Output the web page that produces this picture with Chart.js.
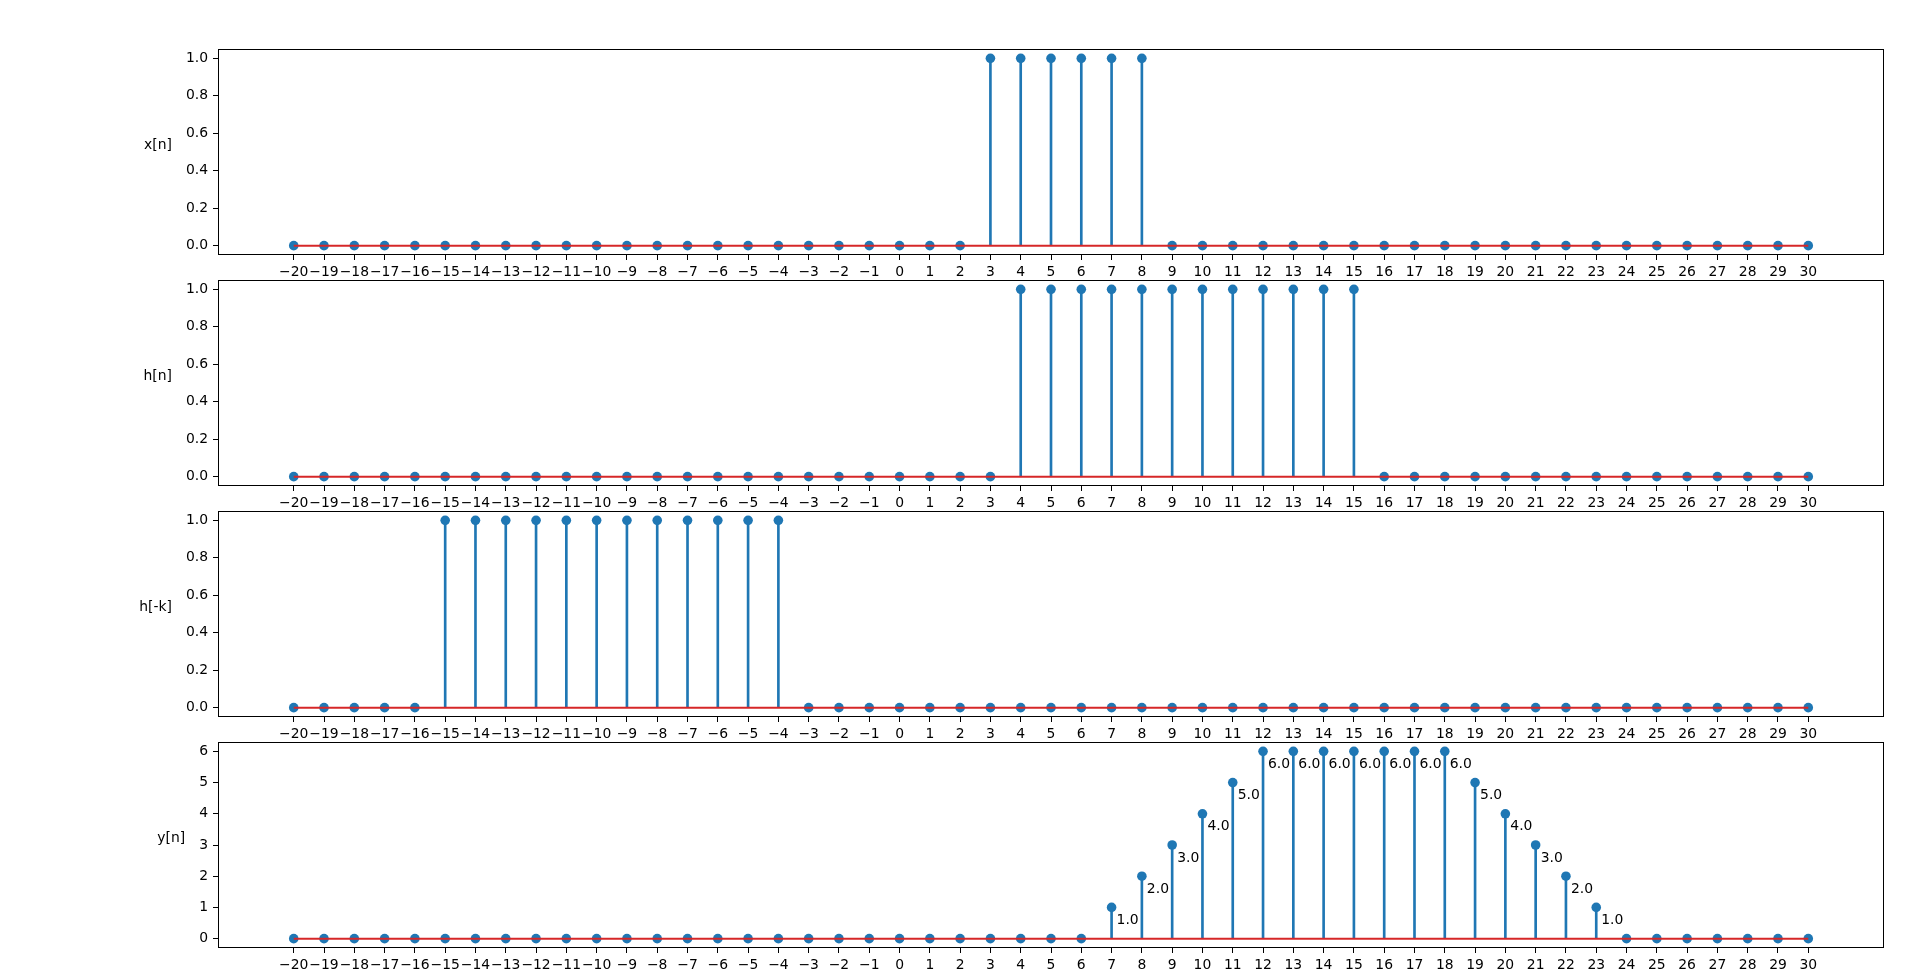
<!DOCTYPE html>
<html>
<head>
<meta charset="utf-8">
<title>Convolution stem plots</title>
<script src="https://cdn.jsdelivr.net/npm/chart.js@4"></script>
<style>
  html, body { margin: 0; padding: 0; background: #fff; }
  body { width: 1920px; height: 973px; position: relative; overflow: hidden; }
  canvas { position: absolute; left: 0; }
</style>
</head>
<body>
<canvas id="panel-x" width="1920" height="252" style="top:29px"></canvas>
<canvas id="panel-h" width="1920" height="252" style="top:260px"></canvas>
<canvas id="panel-hrev" width="1920" height="252" style="top:491px"></canvas>
<canvas id="panel-y" width="1920" height="252" style="top:722px"></canvas>
<script>
// sample index, -20 .. 30
const n = [
  -20, -19, -18, -17, -16, -15, -14, -13, -12, -11,
  -10, -9, -8, -7, -6, -5, -4, -3, -2, -1,
  0, 1, 2, 3, 4, 5, 6, 7, 8, 9,
  10, 11, 12, 13, 14, 15, 16, 17, 18, 19,
  20, 21, 22, 23, 24, 25, 26, 27, 28, 29,
  30,
];

const xVals = [
  0, 0, 0, 0, 0, 0, 0, 0, 0, 0,
  0, 0, 0, 0, 0, 0, 0, 0, 0, 0,
  0, 0, 0, 1, 1, 1, 1, 1, 1, 0,
  0, 0, 0, 0, 0, 0, 0, 0, 0, 0,
  0, 0, 0, 0, 0, 0, 0, 0, 0, 0,
  0,
];

const hVals = [
  0, 0, 0, 0, 0, 0, 0, 0, 0, 0,
  0, 0, 0, 0, 0, 0, 0, 0, 0, 0,
  0, 0, 0, 0, 1, 1, 1, 1, 1, 1,
  1, 1, 1, 1, 1, 1, 0, 0, 0, 0,
  0, 0, 0, 0, 0, 0, 0, 0, 0, 0,
  0,
];

const hRevVals = [
  0, 0, 0, 0, 0, 1, 1, 1, 1, 1,
  1, 1, 1, 1, 1, 1, 1, 0, 0, 0,
  0, 0, 0, 0, 0, 0, 0, 0, 0, 0,
  0, 0, 0, 0, 0, 0, 0, 0, 0, 0,
  0, 0, 0, 0, 0, 0, 0, 0, 0, 0,
  0,
];

const yVals = [
  0, 0, 0, 0, 0, 0, 0, 0, 0, 0,
  0, 0, 0, 0, 0, 0, 0, 0, 0, 0,
  0, 0, 0, 0, 0, 0, 0, 1, 2, 3,
  4, 5, 6, 6, 6, 6, 6, 6, 6, 5,
  4, 3, 2, 1, 0, 0, 0, 0, 0, 0,
  0,
];

const unitTicks = [0, 0.2, 0.4, 0.6, 0.8, 1.0];
const countTicks = [0, 1, 2, 3, 4, 5, 6];

const STEM = '#1f77b4';
const BASE = '#d62728';

Chart.defaults.font.family = 'DejaVu Sans';
Chart.defaults.font.size = 13.9;
Chart.defaults.color = '#000';

const minus = (v) => (v < 0 ? '\u2212' + Math.abs(v) : String(v));

// frame, horizontal y label and optional value labels
const panelDecor = {
  id: 'panelDecor',
  afterDraw(chart, args, opts) {
    const { ctx, chartArea: a, scales } = chart;
    ctx.save();
    ctx.strokeStyle = '#000';
    ctx.lineWidth = 1;
    ctx.strokeRect(a.left + 0.5, a.top + 0.5, a.right - a.left - 1, a.bottom - a.top - 1);

    ctx.font = '13.9px "DejaVu Sans"';
    ctx.fillStyle = '#000';
    let w = 0;
    scales.y.ticks.forEach((t) => { w = Math.max(w, ctx.measureText(t.label).width); });
    ctx.textAlign = 'right';
    ctx.textBaseline = 'alphabetic';
    ctx.fillText(opts.label, a.left - 10 - w - 14, (a.top + a.bottom) / 2 - 3);

    if (opts.annotate) {
      ctx.textAlign = 'left';
      ctx.textBaseline = 'middle';
      opts.values.forEach((v, i) => {
        if (v === 0) return;
        const px = scales.x.getPixelForValue(n[i]);
        const py = scales.y.getPixelForValue(v);
        ctx.fillText(v.toFixed(1), px + 5, py + 13);
      });
    }
    ctx.restore();
  },
};

function makePanel(id, label, values, ticks, yMin, yMax, digits, annotate) {
  const pts = n.map((k, i) => ({ x: k, y: values[i] }));
  return new Chart(document.getElementById(id), {
    type: 'bar',
    data: {
      datasets: [
        { type: 'bar', data: pts, backgroundColor: STEM, barThickness: 2, order: 3 },
        {
          type: 'scatter', data: pts, backgroundColor: STEM, borderWidth: 0,
          pointRadius: 4.8, showLine: false, order: 2,
        },
        {
          type: 'line', data: [{ x: n[0], y: 0 }, { x: n[n.length - 1], y: 0 }],
          borderColor: BASE, borderWidth: 2, pointRadius: 0, order: 1,
        },
      ],
    },
    options: {
      responsive: false,
      animation: false,
      devicePixelRatio: 1,
      events: [],
      layout: { padding: { top: 20, right: 36, bottom: 0, left: 0 } },
      plugins: {
        legend: { display: false },
        tooltip: { enabled: false },
        panelDecor: { label, annotate, values },
      },
      scales: {
        x: {
          type: 'linear',
          min: -22.5,
          max: 32.5,
          offset: false,
          border: { display: false },
          grid: { offset: false, drawOnChartArea: false, drawTicks: true, tickLength: 5, color: '#000' },
          afterBuildTicks: (scale) => { scale.ticks = n.map((v) => ({ value: v })); },
          afterFit: (scale) => { scale.height = 26; },
          ticks: { autoSkip: false, maxRotation: 0, minRotation: 0, padding: 4, callback: (v) => minus(v) },
        },
        y: {
          type: 'linear',
          min: yMin,
          max: yMax,
          border: { display: false },
          grid: { drawOnChartArea: false, drawTicks: true, tickLength: 5, color: '#000' },
          afterBuildTicks: (scale) => { scale.ticks = ticks.map((v) => ({ value: v })); },
          afterFit: (scale) => { scale.width = 218; },
          ticks: { autoSkip: false, padding: 5, callback: (v) => v.toFixed(digits) },
        },
      },
    },
    plugins: [panelDecor],
  });
}

makePanel('panel-x', 'x[n]', xVals, unitTicks, -0.05, 1.05, 1, false);
makePanel('panel-h', 'h[n]', hVals, unitTicks, -0.05, 1.05, 1, false);
makePanel('panel-hrev', 'h[-k]', hRevVals, unitTicks, -0.05, 1.05, 1, false);
makePanel('panel-y', 'y[n]', yVals, countTicks, -0.3, 6.3, 0, true);
</script>
</body>
</html>
